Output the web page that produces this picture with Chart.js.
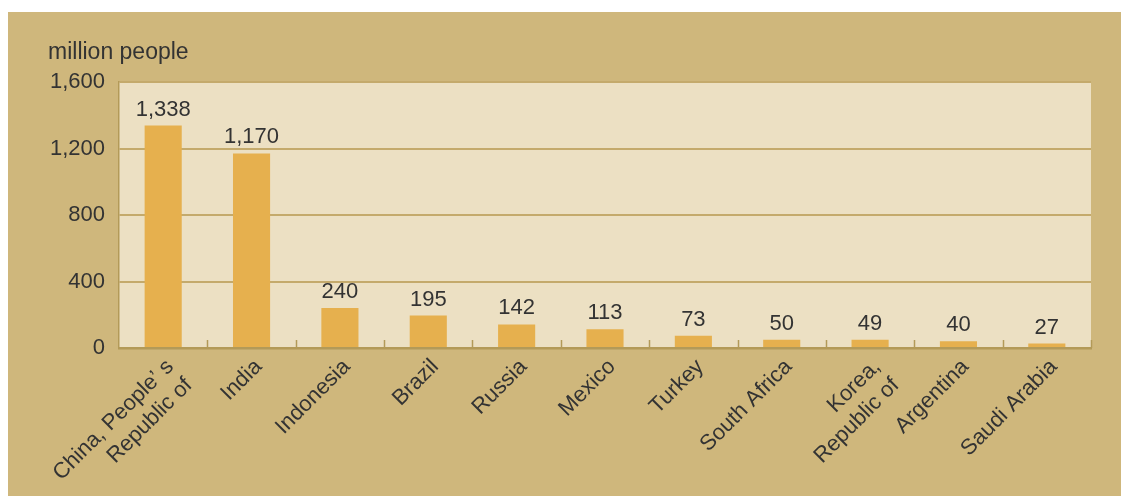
<!DOCTYPE html>
<html>
<head>
<meta charset="utf-8">
<script src="https://cdn.jsdelivr.net/npm/chart.js@4/dist/chart.umd.min.js"></script>
<style>
  html, body { margin: 0; padding: 0; background: #ffffff; }
  #frame { position: absolute; left: 8px; top: 12px; width: 1113px; height: 484px; background: #cfb77c; }
  #chart { display: block; }
</style>
</head>
<body>
<div id="frame"><canvas id="chart" width="1113" height="484"></canvas></div>
<script>
// Population by country, million people
const countries = [
  ['China, People\u2019 s', 'Republic of'],
  'India',
  'Indonesia',
  'Brazil',
  'Russia',
  'Mexico',
  'Turkey',
  'South Africa',
  ['Korea,', 'Republic of'],
  'Argentina',
  'Saudi Arabia'
];
const population = [1338, 1170, 240, 195, 142, 113, 73, 50, 49, 40, 27];
const yTicks = [0, 400, 800, 1200, 1600];
const unitLabel = 'million people';

const FONT = '"Liberation Sans", "Helvetica Neue", Arial, sans-serif';
const TEXT = '#333333';
const AXIS = '#b39a58';
const GRID = '#c4aa6c';

// Light panel behind the plot area
const plotBackground = {
  id: 'plotBackground',
  beforeDraw(chart) {
    const { ctx, chartArea: a } = chart;
    ctx.save();
    ctx.fillStyle = '#ece0c3';
    ctx.fillRect(a.left, a.top, a.right - a.left, a.bottom - a.top);
    ctx.restore();
  }
};

// Unit caption, short category separators and value labels
const annotations = {
  id: 'annotations',
  afterDatasetsDraw(chart) {
    const { ctx, chartArea: a } = chart;
    const x = chart.scales.x;
    ctx.save();
    // separators between categories, pointing up from the axis
    ctx.strokeStyle = AXIS;
    ctx.lineWidth = 1.5;
    const step = (a.right - a.left) / countries.length;
    for (let i = 1; i <= countries.length; i++) {
      const px = Math.round(x.getPixelForValue(i - 1) + step / 2) + 0.5;
      ctx.beginPath();
      ctx.moveTo(px, a.bottom);
      ctx.lineTo(px, a.bottom - 8);
      ctx.stroke();
    }
    // value labels above bars
    ctx.fillStyle = TEXT;
    ctx.font = '22px ' + FONT;
    ctx.textAlign = 'center';
    ctx.textBaseline = 'alphabetic';
    const meta = chart.getDatasetMeta(0);
    meta.data.forEach((bar, i) => {
      ctx.fillText(population[i].toLocaleString('en-US'), bar.x, bar.y - 10);
    });
    // unit caption
    ctx.font = '23px ' + FONT;
    ctx.textAlign = 'left';
    ctx.fillText(unitLabel, 40, 47);
    ctx.restore();
  }
};

new Chart(document.getElementById('chart'), {
  type: 'bar',
  data: {
    labels: countries,
    datasets: [{
      data: population,
      backgroundColor: '#e6b04e',
      borderWidth: 0,
      barPercentage: 0.42,
      categoryPercentage: 1.0
    }]
  },
  options: {
    responsive: false,
    animation: false,
    events: [],
    layout: { padding: { left: 0, right: 30, top: 70, bottom: 0 } },
    plugins: { legend: { display: false }, tooltip: { enabled: false }, title: { display: false } },
    scales: {
      x: {
        offset: true,
        grid: { display: false, drawTicks: false },
        border: { display: true, color: AXIS, width: 2.5 },
        afterFit(scale) { scale.height = 148; },
        ticks: {
          color: TEXT,
          font: { family: FONT, size: 22 },
          minRotation: 45,
          maxRotation: 45,
          autoSkip: false,
          padding: 6,
          labelOffset: 7
        }
      },
      y: {
        min: 0,
        max: 1600,
        afterFit(scale) { scale.width = 111; },
        afterBuildTicks(scale) { scale.ticks = yTicks.map(v => ({ value: v })); },
        grid: { color: GRID, lineWidth: 2, drawTicks: false },
        border: { display: true, color: AXIS, width: 1.5 },
        ticks: {
          color: TEXT,
          font: { family: FONT, size: 22 },
          padding: 14,
          callback: v => v.toLocaleString('en-US')
        }
      }
    }
  },
  plugins: [plotBackground, annotations]
});
</script>
</body>
</html>
